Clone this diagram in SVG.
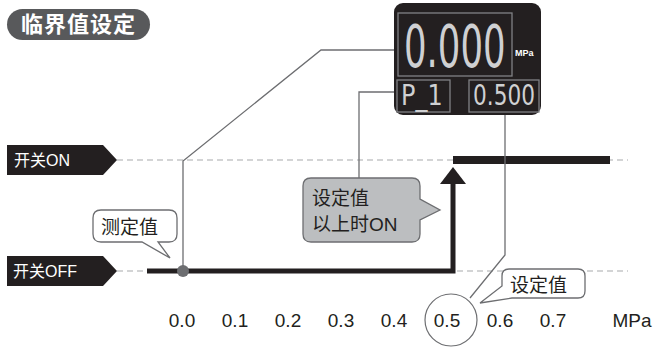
<svg xmlns="http://www.w3.org/2000/svg" width="654" height="347" viewBox="0 0 654 347">
<style>
.conn{fill:none;stroke:#6d6e71;stroke-width:1.3}
.dash{fill:none;stroke:#a7a9ac;stroke-width:1.2;stroke-dasharray:6 4}
.thick{fill:none;stroke:#231f20;stroke-linecap:butt}
.cjk{font-family:"Liberation Sans","Noto Sans CJK SC",sans-serif}
.callout{fill:#fff;stroke:#6d6e71;stroke-width:1.3}
.lcd{font-family:"DejaVu Sans Condensed","DejaVu Sans",sans-serif;fill:#cfd0d2}
.frame{fill:none;stroke:#808285;stroke-width:1.3}
.tick{font-family:"Liberation Sans",Arial,sans-serif;font-size:19px;fill:#231f20;text-anchor:middle}
.tag{fill:#231f20}
.tagtxt{fill:#fff;font-size:16px}
.ctxt{fill:#231f20;font-size:19px}
</style>

<g id="title">
  <rect x="7" y="9" width="143" height="31" rx="15.5" fill="#58595b"/>
  <text x="78.5" y="32" class="cjk" font-size="22" font-weight="bold" fill="#fff" text-anchor="middle" letter-spacing="1">临界值设定</text>
</g>

<g id="lines">
  <line class="dash" x1="117" y1="160" x2="628" y2="160"/>
  <line class="dash" x1="117" y1="271" x2="628" y2="271"/>
  <line class="thick" x1="453" y1="160" x2="610" y2="160" stroke-width="8"/>
  <path class="thick" d="M147,271 H453 V180" stroke-width="5"/>
  <polygon points="453,167 466,184 440,184" fill="#231f20"/>
</g>

<g id="label-on">
  <path class="tag" d="M7,145 H103 L117,160 L103,175 H7 Z"/>
  <text x="14" y="166" class="cjk tagtxt">开关ON</text>
</g>
<g id="label-off">
  <path class="tag" d="M7,256 H103 L117,271 L103,286 H7 Z"/>
  <text x="13" y="277" class="cjk tagtxt">开关OFF</text>
</g>

<g id="connectors">
  <path class="conn" d="M398,50 H321 L183,161 V271"/>
  <path class="conn" d="M397,92 H359 V178"/>
  <path class="conn" d="M505,112 V255 L470,298"/>
</g>

<g id="dot">
  <circle cx="183" cy="271" r="6" fill="#6d6e71"/>
</g>

<g id="display">
  <rect x="394" y="3" width="147" height="112" rx="9" fill="#231f20"/>
  <rect class="frame" x="398" y="13" width="114" height="63"/>
  <rect class="frame" x="397" y="80" width="53" height="32"/>
  <rect class="frame" x="469" y="80" width="70" height="32"/>
  <text class="lcd" font-size="58" transform="translate(404,67) scale(0.68,1)">0.000</text>
  <text x="515" y="56" font-family="Liberation Sans,Arial,sans-serif" font-size="9" font-weight="bold" fill="#fff">MPa</text>
  <text class="lcd" font-size="28" transform="translate(401,105) scale(0.95,1)">P_1</text>
  <text class="lcd" font-size="28" transform="translate(473,105) scale(0.86,1)">0.500</text>
</g>

<g id="callout-measured">
  <path class="callout" d="M101,210 H169 Q177,210 177,218 V234 Q177,242 169,242 H158 L170,258 L142,242 H101 Q93,242 93,234 V218 Q93,210 101,210 Z"/>
  <text x="101" y="234" class="cjk ctxt">测定值</text>
</g>

<g id="callout-on">
  <path d="M311,178 H412 Q420,178 420,186 V199 L440,210 L420,220 V234 Q420,242 412,242 H311 Q303,242 303,234 V186 Q303,178 311,178 Z" fill="#bcbec0" stroke="#6d6e71" stroke-width="1.3"/>
  <text x="312" y="205" class="cjk ctxt">设定值</text>
  <text x="312" y="231" class="cjk ctxt">以上时ON</text>
</g>

<g id="callout-set">
  <path class="callout" d="M509,269 H578 Q585,269 585,276 V291 Q585,298 578,298 H512 L480,303 L502,286 V276 Q502,269 509,269 Z"/>
  <text x="510" y="292" class="cjk ctxt">设定值</text>
</g>

<g id="axis">
  <circle cx="451" cy="320" r="26" fill="none" stroke="#6d6e71" stroke-width="1.2"/>
  <text class="tick" x="182" y="327">0.0</text>
  <text class="tick" x="235" y="327">0.1</text>
  <text class="tick" x="288" y="327">0.2</text>
  <text class="tick" x="341" y="327">0.3</text>
  <text class="tick" x="394" y="327">0.4</text>
  <text class="tick" x="447" y="327">0.5</text>
  <text class="tick" x="500" y="327">0.6</text>
  <text class="tick" x="553" y="327">0.7</text>
  <text class="tick" x="632" y="327">MPa</text>
</g>
</svg>
